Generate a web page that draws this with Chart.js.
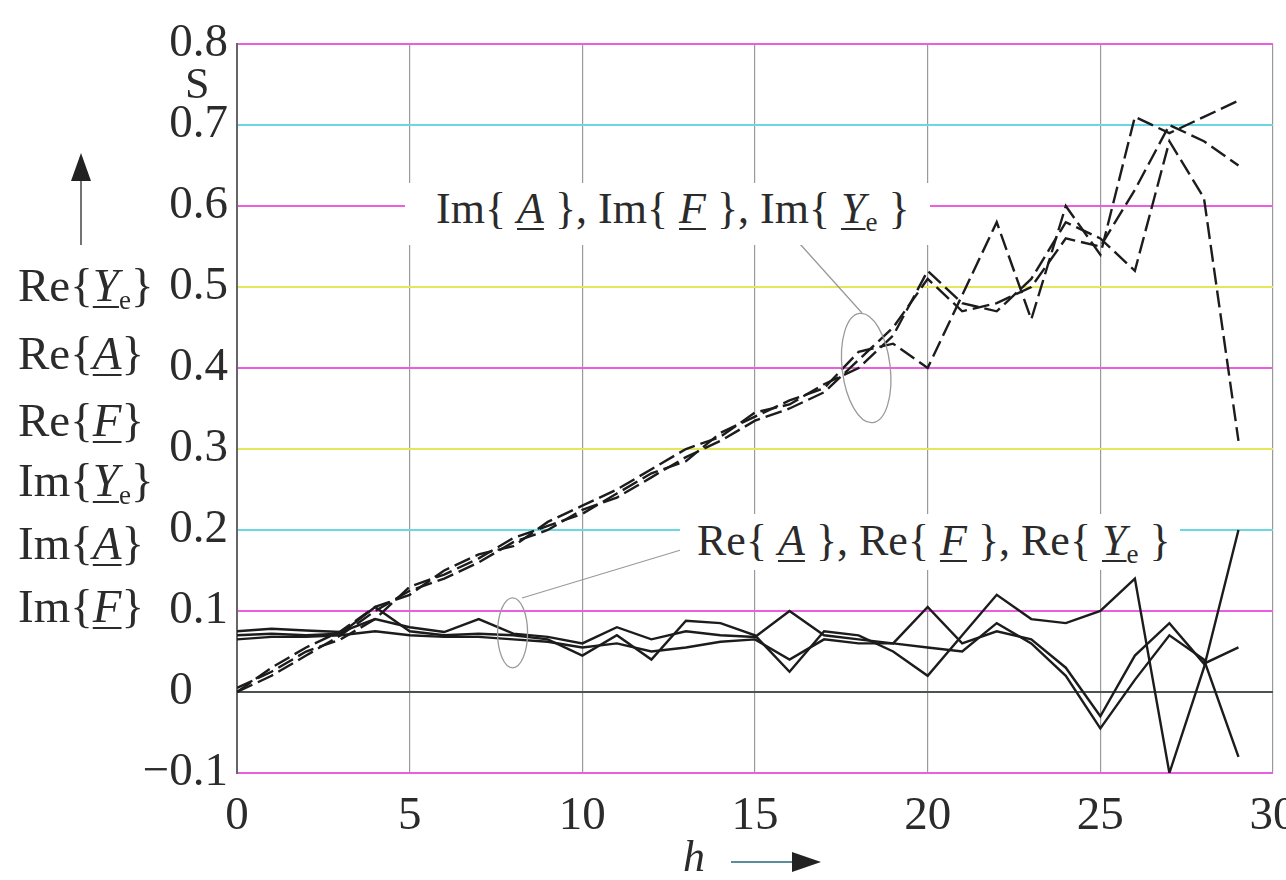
<!DOCTYPE html>
<html>
<head>
<meta charset="utf-8">
<script src="https://cdn.jsdelivr.net/npm/chart.js@4.4.1/dist/chart.umd.min.js"></script>
<style>
  body { margin: 0; background: #fff; }
  #wrap { position: relative; width: 1286px; height: 880px; overflow: hidden; }
  #chart { position: absolute; left: 0; top: 0; }
  .lbl { position: absolute; font-family: "Liberation Serif", serif; font-size: 44px; line-height: 1; color: #2b2b2b; white-space: nowrap; }
  .big { font-size: 47px; }
  .u { font-style: italic; text-decoration: underline; text-underline-offset: 5px; text-decoration-thickness: 2px; }
  .lbl sub { font-size: 27px; vertical-align: -8px; line-height: 0; }
  .box { position: absolute; background: #fff; }
</style>
</head>
<body>
<div id="wrap">
  <canvas id="chart" width="1286" height="880"></canvas>

  <div class="lbl" style="left:185px;top:62px;">S</div>

  <div class="lbl big" style="left:18px;top:262px;">Re{<span class="u">Y</span><sub>e</sub>}</div>
  <div class="lbl big" style="left:18px;top:330px;">Re{<span class="u">A</span>}</div>
  <div class="lbl big" style="left:18px;top:397px;">Re{<span class="u">F</span>}</div>
  <div class="lbl big" style="left:18px;top:457px;">Im{<span class="u">Y</span><sub>e</sub>}</div>
  <div class="lbl big" style="left:18px;top:520px;">Im{<span class="u">A</span>}</div>
  <div class="lbl big" style="left:18px;top:583px;">Im{<span class="u">F</span>}</div>

  <div class="box" style="left:405px;top:183px;width:525px;height:62px;"></div>
  <div class="lbl" style="left:436px;top:187px;">Im{ <span class="u">A</span> }, Im{ <span class="u">F</span> }, Im{ <span class="u">Y</span><sub>e</sub> }</div>

  <div class="box" style="left:680px;top:514px;width:500px;height:56px;"></div>
  <div class="lbl" style="left:697px;top:519px;">Re{ <span class="u">A</span> }, Re{ <span class="u">F</span> }, Re{ <span class="u">Y</span><sub>e</sub> }</div>

  <div class="lbl" style="left:683px;top:835px;font-style:italic;">h</div>
</div>

<script>
// harmonic order
const hValues = [0, 1, 2, 3, 4, 5, 6, 7, 8, 9, 10, 11, 12, 13, 14, 15, 16, 17, 18, 19, 20, 21, 22, 23, 24, 25, 26, 27, 28, 29];

// real parts (solid)
const reA  = [0.075, 0.078, 0.076, 0.074, 0.09, 0.08, 0.074, 0.09, 0.072, 0.068, 0.06, 0.08, 0.065, 0.075, 0.07, 0.068, 0.10, 0.07, 0.065, 0.06, 0.105, 0.06, 0.075, 0.065, 0.03, -0.03, 0.045, 0.085, 0.035, 0.055];
const reF  = [0.07, 0.072, 0.07, 0.072, 0.105, 0.075, 0.07, 0.072, 0.07, 0.065, 0.045, 0.07, 0.04, 0.088, 0.085, 0.07, 0.025, 0.075, 0.07, 0.05, 0.02, 0.07, 0.12, 0.09, 0.085, 0.10, 0.14, -0.1, 0.03, 0.20];
const reYe = [0.065, 0.068, 0.068, 0.07, 0.075, 0.07, 0.068, 0.068, 0.065, 0.062, 0.055, 0.06, 0.05, 0.055, 0.062, 0.065, 0.04, 0.065, 0.06, 0.06, 0.055, 0.05, 0.085, 0.06, 0.02, -0.045, 0.015, 0.07, 0.04, -0.08];

// imaginary parts (dashed)
const imA  = [0, 0.02, 0.045, 0.07, 0.10, 0.125, 0.14, 0.16, 0.185, 0.20, 0.225, 0.24, 0.265, 0.29, 0.31, 0.335, 0.35, 0.37, 0.41, 0.45, 0.51, 0.47, 0.48, 0.50, 0.56, 0.55, 0.62, 0.70, 0.68, 0.65];
const imF  = [0.005, 0.025, 0.05, 0.065, 0.09, 0.13, 0.145, 0.165, 0.19, 0.205, 0.22, 0.245, 0.27, 0.285, 0.32, 0.34, 0.36, 0.375, 0.42, 0.43, 0.40, 0.49, 0.58, 0.46, 0.60, 0.54, 0.71, 0.69, 0.71, 0.73];
const imYe = [0, 0.03, 0.055, 0.075, 0.105, 0.12, 0.15, 0.17, 0.18, 0.21, 0.23, 0.25, 0.275, 0.30, 0.315, 0.345, 0.355, 0.38, 0.40, 0.44, 0.52, 0.48, 0.47, 0.51, 0.58, 0.56, 0.52, 0.68, 0.61, 0.31];

const xMin = 0, xMax = 30, xStep = 5;
const yMin = -0.1, yMax = 0.8, yStep = 0.1;

function pts(arr) {
  return hValues.map((h, i) => ({ x: h, y: arr[i] }));
}

function series(label, arr, dashed) {
  return {
    label: label,
    data: pts(arr),
    borderColor: '#1c1c1c',
    borderWidth: 2.4,
    borderDash: dashed ? [17, 6] : [],
    pointRadius: 0,
    tension: 0,
    fill: false
  };
}

// scanned-look grid colours per y value
function gridColor(v) {
  const k = Math.round(v * 10);
  if (k === 0) return '#4a5550';
  if (k === 3 || k === 5) return '#e6e65a';
  if (k === 2 || k === 7) return '#6ad8e0';
  return '#ec5ee0';
}

const decor = {
  id: 'decor',
  afterDatasetsDraw(chart) {
    const { ctx, scales: { x, y } } = chart;
    ctx.save();
    ctx.strokeStyle = '#9a9a9a';
    ctx.lineWidth = 1.3;
    // ellipses marking the groups
    ctx.beginPath();
    ctx.ellipse(x.getPixelForValue(18.22), y.getPixelForValue(0.40), 24, 55, -0.12, 0, Math.PI * 2);
    ctx.stroke();
    ctx.beginPath();
    ctx.ellipse(x.getPixelForValue(7.98), y.getPixelForValue(0.073), 15, 35, 0, 0, Math.PI * 2);
    ctx.stroke();
    // leader lines
    ctx.beginPath();
    ctx.moveTo(800, 244);
    ctx.lineTo(862, 313);
    ctx.moveTo(694, 546);
    ctx.lineTo(522, 598);
    ctx.stroke();

    // vertical arrow on the left
    ctx.strokeStyle = '#444';
    ctx.fillStyle = '#222';
    ctx.lineWidth = 1.5;
    ctx.beginPath();
    ctx.moveTo(81, 245);
    ctx.lineTo(81, 178);
    ctx.stroke();
    ctx.beginPath();
    ctx.moveTo(81, 153);
    ctx.lineTo(71, 181);
    ctx.lineTo(91, 181);
    ctx.closePath();
    ctx.fill();

    // h arrow
    ctx.strokeStyle = '#5a8f9a';
    ctx.lineWidth = 2;
    ctx.beginPath();
    ctx.moveTo(731, 862);
    ctx.lineTo(795, 862);
    ctx.stroke();
    ctx.beginPath();
    ctx.moveTo(821, 862);
    ctx.lineTo(792, 852);
    ctx.lineTo(792, 872);
    ctx.closePath();
    ctx.fill();
    ctx.restore();
  }
};

new Chart(document.getElementById('chart'), {
  type: 'line',
  data: {
    datasets: [
      series('Re{A}', reA, false),
      series('Re{F}', reF, false),
      series('Re{Ye}', reYe, false),
      series('Im{A}', imA, true),
      series('Im{F}', imF, true),
      series('Im{Ye}', imYe, true)
    ]
  },
  options: {
    responsive: false,
    animation: false,
    layout: { padding: { left: 137, right: 13, top: 44, bottom: 0 } },
    plugins: { legend: { display: false }, tooltip: { enabled: false } },
    scales: {
      x: {
        type: 'linear',
        min: xMin,
        max: xMax,
        afterFit: (s) => { s.height = 107; s.paddingLeft = 0; s.paddingRight = 0; },
        border: { display: false },
        grid: { color: '#9a9a9a', lineWidth: 1.2, drawTicks: false },
        ticks: {
          stepSize: xStep,
          padding: 15,
          color: '#2b2b2b',
          font: { family: 'Liberation Serif', size: 47 },
          maxRotation: 0
        }
      },
      y: {
        min: yMin,
        max: yMax,
        afterFit: (s) => { s.width = 100; s.paddingTop = 0; s.paddingBottom = 0; },
        border: { display: true, color: '#666', width: 2 },
        grid: {
          drawTicks: false,
          lineWidth: 2,
          color: (c) => gridColor(c.tick.value)
        },
        ticks: {
          stepSize: yStep,
          crossAlign: 'near',
          padding: 9,
          color: '#2b2b2b',
          font: { family: 'Liberation Serif', size: 47 },
          callback: (v) => {
            // zero sits under the leading digit of the other labels
            if (Math.abs(v) < 1e-9) return '0\u2008\u2007';
            if (v < 0) return '\u2212' + Math.abs(v).toFixed(1);
            return v.toFixed(1);
          }
        }
      }
    }
  },
  plugins: [decor]
});
</script>
</body>
</html>
